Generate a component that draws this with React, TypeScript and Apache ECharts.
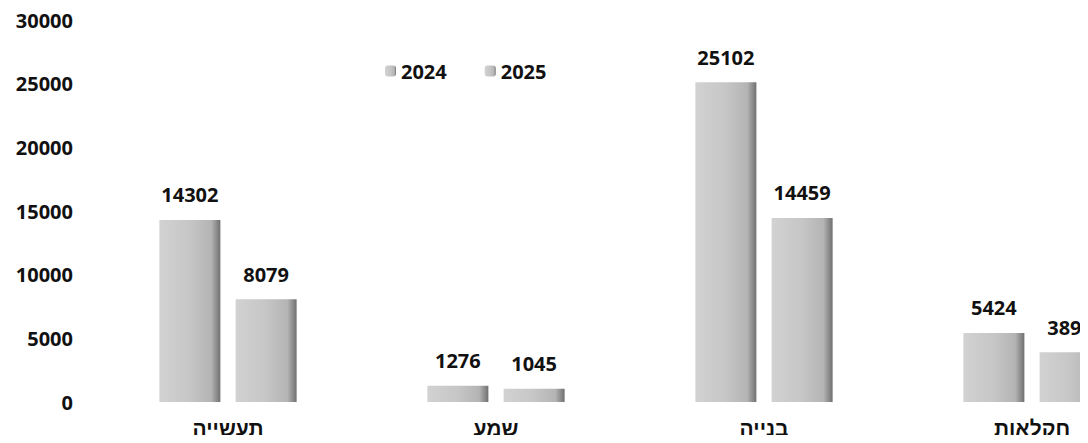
import React, { useEffect, useRef } from "react";
import * as echarts from "echarts";

const categories = ["תעשייה", "שמע", "בנייה", "חקלאות"];
const series2024 = [14302, 1276, 25102, 5424];
const series2025 = [8079, 1045, 14459, 3898];
const yTicks = [0, 5000, 10000, 15000, 20000, 25000, 30000];

const barGradient = () =>
  new echarts.graphic.LinearGradient(0, 0, 1, 0, [
    { offset: 0, color: "#d2d2d2" },
    { offset: 0.5, color: "#c6c6c6" },
    { offset: 0.85, color: "#b4b4b4" },
    { offset: 1, color: "#707070" },
  ]);

export default function App() {
  const ref = useRef<HTMLDivElement>(null);
  useEffect(() => {
    if (!ref.current) return;
    const chart = echarts.init(ref.current, undefined, { renderer: "svg" });
    const labelStyle = {
      show: true,
      position: "top" as const,
      distance: 15,
      color: "#111",
      fontFamily: "'Open Sans', 'DejaVu Sans', sans-serif",
      fontWeight: "bold" as const,
      fontSize: 20,
    };
    chart.setOption({
      animation: false,
      backgroundColor: "#ffffff",
      legend: {
        left: 380,
        top: 56,
        itemWidth: 11,
        itemHeight: 11,
        itemGap: 38,
        textStyle: {
          color: "#111",
          fontFamily: "'Open Sans', 'DejaVu Sans', sans-serif",
          fontWeight: "bold",
          fontSize: 20,
        },
        data: ["2024", "2025"],
      },
      grid: {
        left: 94,
        right: -78,
        top: 20,
        bottom: 41,
        containLabel: false,
        outerBoundsMode: "none",
      },
      xAxis: {
        type: "category",
        data: categories,
        axisLine: { show: false },
        axisTick: { show: false },
        axisLabel: {
          margin: 16,
          color: "#111",
          fontFamily: "'Liberation Sans', 'DejaVu Sans', sans-serif",
          fontWeight: "bold",
          fontSize: 21,
        },
      },
      yAxis: {
        type: "value",
        min: yTicks[0],
        max: yTicks[yTicks.length - 1],
        interval: 5000,
        splitLine: { show: false },
        axisLine: { show: false },
        axisTick: { show: false },
        axisLabel: {
          margin: 21,
          color: "#111",
          fontFamily: "'Open Sans', 'DejaVu Sans', sans-serif",
          fontWeight: "bold",
          fontSize: 20,
          formatter: (v: number) => String(v),
        },
      },
      series: [
        {
          name: "2024",
          type: "bar",
          data: series2024,
          barWidth: 61,
          barGap: "25%",
          itemStyle: { color: barGradient() },
          label: labelStyle,
        },
        {
          name: "2025",
          type: "bar",
          data: series2025,
          barWidth: 61,
          itemStyle: { color: barGradient() },
          label: labelStyle,
        },
      ],
    });
    return () => chart.dispose();
  }, []);
  return <div ref={ref} style={{ width: 1088, height: 443, margin: -8 }} />;
}
